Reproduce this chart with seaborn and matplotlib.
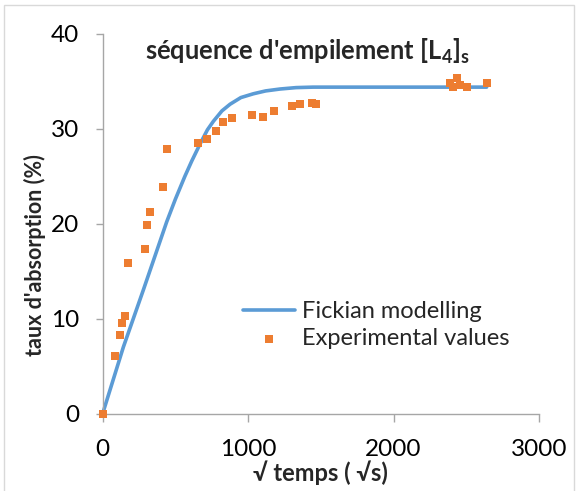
import matplotlib
matplotlib.use("Agg")
import matplotlib.pyplot as plt
import seaborn as sns
import pandas as pd
from matplotlib.patches import Rectangle

# --- Data ---
temps_exp = [0, 87, 121, 130, 156, 176, 291, 302, 325, 417, 444, 657, 715, 779, 830,
             887, 1025, 1100, 1180, 1300, 1357, 1437, 1467, 2389, 2411, 2435, 2457, 2503, 2645]
taux_exp = [0, 6.05, 8.3, 9.5, 10.3, 15.9, 17.3, 19.9, 21.2, 23.9, 27.9, 28.5, 28.9, 29.8, 30.7,
            31.1, 31.5, 31.2, 31.9, 32.4, 32.6, 32.7, 32.6, 34.8, 34.4, 35.4, 34.6, 34.4, 34.8]

temps_fick = [0, 142, 279, 440, 500, 565, 612, 669, 720, 761, 820, 876, 950, 1036, 1120,
              1219, 1330, 1447, 2000, 2640]
taux_fick = [0, 7.0, 13.0, 20.2, 22.6, 25.0, 26.6, 28.4, 29.9, 30.8, 31.9, 32.6, 33.3, 33.7, 34.0,
             34.2, 34.35, 34.4, 34.4, 34.4]

x_ticks = [0, 1000, 2000, 3000]
y_ticks = [0, 10, 20, 30, 40]

df_exp = pd.DataFrame({"temps": temps_exp, "taux": taux_exp})
df_fick = pd.DataFrame({"temps": temps_fick, "taux": taux_fick})

# --- Style ---
sns.set_theme(style="white")
plt.rcParams["font.family"] = ["Lato", "DejaVu Sans"]
plt.rcParams["mathtext.fontset"] = "custom"
plt.rcParams["mathtext.rm"] = "Lato"
plt.rcParams["mathtext.bf"] = "Lato:bold"

blue = "#5B9BD5"
orange = "#ED7D31"
gray = "#A6A6A6"

fig = plt.figure(figsize=(5.77, 4.91), dpi=100)
ax = fig.add_axes([102.7 / 577, 1 - 413.5 / 491, (539 - 102.7) / 577, (413.5 - 34) / 491])

sns.lineplot(data=df_fick, x="temps", y="taux", ax=ax, color=blue, linewidth=2.6,
             sort=False, estimator=None, label="Fickian modelling", clip_on=False)
sns.scatterplot(data=df_exp, x="temps", y="taux", ax=ax, color=orange, marker="s",
                s=38, linewidth=0, label="Experimental values", clip_on=False, zorder=3)

ax.set_xlim(0, 3000)
ax.set_ylim(0, 40)
ax.set_xticks(x_ticks)
ax.set_yticks(y_ticks)

for side in ["top", "right"]:
    ax.spines[side].set_visible(False)
for side in ["left", "bottom"]:
    ax.spines[side].set_color(gray)
    ax.spines[side].set_linewidth(1.0)

ax.tick_params(axis="x", direction="out", length=6, width=1, color=gray, pad=12,
               labelsize=17.5, labelcolor="black", bottom=True)
ax.tick_params(axis="y", direction="out", length=5, width=1, color=gray, pad=12,
               labelsize=17.5, labelcolor="black", left=True)

ax.set_xlabel("√ temps ( √s)", fontsize=17, fontweight="bold")
ax.set_ylabel("taux d'absorption (%)", fontsize=15.5, fontweight="bold")
ax.xaxis.set_label_coords(0.5, -0.155)
ax.xaxis.label.set_va("center")
ax.yaxis.set_label_coords(-0.155, 0.418)
ax.yaxis.label.set_va("center")

ax.text(0.469, 0.9315, r"séquence d'empilement [L$_\mathbf{4}$]$_\mathbf{s}$",
        transform=ax.transAxes, ha="center", va="baseline",
        fontsize=18.4, fontweight="bold")

ax.legend(loc="upper left", bbox_to_anchor=(0.3, 0.3215), frameon=False, fontsize=17,
          handlelength=2.2, handletextpad=0.3, labelspacing=0.25, borderaxespad=0)

# chart border
fig.add_artist(Rectangle((4 / 577, -0.05), 570 / 577, 1 - 5 / 491 + 0.05,
                         transform=fig.transFigure, fill=False, edgecolor="#D9D9D9",
                         linewidth=1.0))

fig.savefig("out.png", dpi=100)
